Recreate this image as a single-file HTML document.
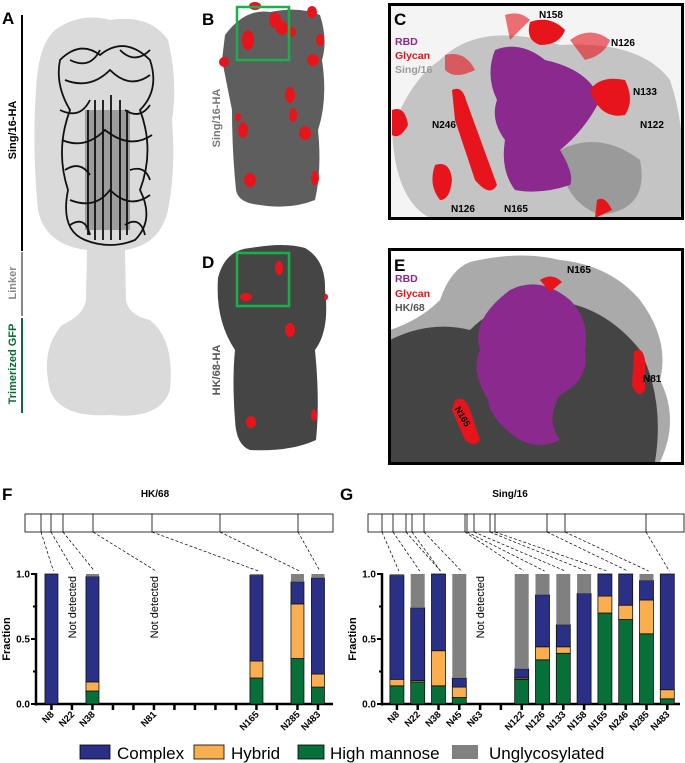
<!DOCTYPE html>
<html><head><meta charset="utf-8"><style>
body{margin:0;background:#fff;width:685px;height:763px;overflow:hidden;font-family:"Liberation Sans",Arial,sans-serif}
svg{position:absolute;left:0;top:0}
</style></head><body>
<svg id="fig" width="685" height="763" viewBox="0 0 685 763">
<!-- Panel A -->
<g>
<text x="2" y="24" font-size="17" font-weight="bold">A</text>
<line x1="22" y1="15" x2="22" y2="251" stroke="#000" stroke-width="2"/>
<line x1="22" y1="252" x2="22" y2="316" stroke="#888" stroke-width="2"/>
<line x1="22" y1="318" x2="22" y2="413" stroke="#0b6b35" stroke-width="2"/>
<text transform="translate(16,130) rotate(-90)" text-anchor="middle" font-size="11" font-weight="bold">Sing/16-HA</text>
<text transform="translate(16,283) rotate(-90)" text-anchor="middle" font-size="11" font-weight="bold" fill="#888">Linker</text>
<text transform="translate(16,364) rotate(-90)" text-anchor="middle" font-size="11" font-weight="bold" fill="#0b6b35">Trimerized GFP</text>
<path d="M55,30 Q80,12 110,20 Q150,14 168,40 Q178,80 172,120 Q176,170 168,210 Q160,245 125,250 L126,300 Q128,315 150,320 Q175,340 170,390 Q160,420 110,415 Q60,418 50,390 Q40,350 62,325 Q84,315 86,300 L87,250 Q45,245 38,210 Q32,150 36,90 Q38,45 55,30 Z" fill="#d6d6d6" opacity="0.9"/>
<g stroke="#111" stroke-width="1.8" fill="none">
<path d="M60,60 Q80,40 100,55 Q125,35 150,60 Q160,90 140,110 Q155,150 140,190 Q155,220 135,240 Q110,250 85,240 Q60,230 68,190 Q55,150 70,110 Q55,85 60,60Z"/>
<path d="M95,100 L95,240 M103,100 L103,240 M111,95 L111,240 M120,100 L120,240 M88,110 L88,235 M127,110 L127,235"/>
<path d="M65,80 Q90,90 110,70 Q130,90 150,75 M62,140 Q85,150 105,130 Q130,150 152,135 M70,200 Q95,210 110,190 Q130,210 150,195 M70,60 Q90,70 100,50 M120,50 Q135,65 150,50 M60,110 Q80,120 90,100 M125,110 Q140,120 150,105 M65,170 Q80,160 90,175 M130,170 Q145,165 150,180 M70,225 Q85,215 90,235 M125,225 Q140,215 145,235"/>
</g>
<path d="M85,110 L130,110 L130,230 L85,230Z" fill="#111" opacity="0.3"/>
</g>
<!-- Panel B -->
<g>
<text x="202" y="25" font-size="17" font-weight="bold">B</text>
<path d="M225,35 Q245,8 270,12 Q300,6 320,15 Q328,40 322,60 Q328,100 318,130 Q322,170 315,200 Q290,210 260,205 Q238,203 236,190 Q232,150 232,110 Q226,80 222,60Z" fill="#5e5e5e"/>
<text transform="translate(220,118) rotate(-90)" text-anchor="middle" font-size="11" font-weight="bold" fill="#777">Sing/16-HA</text>
<g fill="#e8141c">
<ellipse cx="248" cy="40" rx="6" ry="10"/><ellipse cx="275" cy="20" rx="6" ry="8"/><ellipse cx="282" cy="28" rx="6" ry="7"/><ellipse cx="255" cy="6" rx="6" ry="4"/><ellipse cx="312" cy="12" rx="5" ry="6"/><ellipse cx="292" cy="32" rx="4" ry="5"/><ellipse cx="224" cy="62" rx="5" ry="5"/><ellipse cx="313" cy="60" rx="6" ry="6"/><ellipse cx="320" cy="40" rx="4" ry="6"/><ellipse cx="290" cy="95" rx="5" ry="8"/><ellipse cx="293" cy="115" rx="4" ry="7"/><ellipse cx="243" cy="130" rx="5" ry="8"/><ellipse cx="305" cy="133" rx="6" ry="7"/><ellipse cx="250" cy="180" rx="6" ry="7"/><ellipse cx="315" cy="178" rx="4" ry="7"/><ellipse cx="238" cy="117" rx="3" ry="4"/>
</g>
<rect x="237" y="7" width="52" height="53" fill="none" stroke="#19b04b" stroke-width="2.5"/>
</g>
<!-- Panel D -->
<g>
<text x="202" y="268" font-size="17" font-weight="bold">D</text>
<path d="M218,278 Q225,250 250,248 Q285,242 305,248 Q326,260 325,290 Q330,330 315,350 Q320,400 316,440 Q290,452 250,450 Q236,445 235,420 Q232,380 235,350 Q215,320 218,278Z" fill="#454545"/>
<text transform="translate(220,370) rotate(-90)" text-anchor="middle" font-size="11" font-weight="bold" fill="#555">HK/68-HA</text>
<g fill="#e8141c">
<ellipse cx="279" cy="268" rx="4" ry="7"/><ellipse cx="246" cy="297" rx="6" ry="4"/><ellipse cx="290" cy="330" rx="5" ry="7"/><ellipse cx="251" cy="422" rx="5" ry="6"/><ellipse cx="326" cy="297" rx="2" ry="3"/><ellipse cx="314" cy="415" rx="3" ry="6"/>
</g>
<rect x="237" y="253" width="52" height="53" fill="none" stroke="#19b04b" stroke-width="2.5"/>
</g>
<!-- Panel C -->
<g>
<clipPath id="cc"><rect x="390" y="5" width="292" height="213"/></clipPath>
<g clip-path="url(#cc)">
<rect x="390" y="5" width="292" height="213" fill="#f4f4f4"/>
<path d="M440,60 Q480,20 560,45 Q640,40 670,80 Q690,140 680,218 L430,218 Q395,200 392,130 Q410,80 440,60Z" fill="#c4c4c4"/>
<path d="M560,150 Q600,130 640,160 Q650,210 600,215 Q560,200 560,150Z" fill="#9a9a9a"/>
<path d="M495,50 Q520,40 545,60 Q590,70 600,100 Q585,130 560,150 Q575,175 570,185 Q540,195 515,190 Q500,170 505,140 Q490,120 497,100 Q485,75 495,50Z" fill="#8b2a8e"/>
<g fill="#e8141c"><path d="M530,22 Q550,15 565,30 Q560,45 540,45 Q525,40 530,22Z"/><path d="M590,90 Q600,75 625,80 Q635,100 625,115 Q600,120 590,90Z"/><path d="M452,90 Q462,85 466,100 L497,185 Q490,198 475,180 L455,120Z"/><path d="M435,165 Q450,160 452,180 Q450,200 440,200 Q428,185 435,165Z"/><path d="M597,200 Q605,195 612,210 L595,218Z"/><path d="M392,110 Q405,105 408,125 Q400,140 392,135Z"/></g>
<g fill="#e8141c" opacity="0.6"><path d="M570,40 Q590,25 610,40 Q605,55 585,60Z"/><path d="M445,55 Q465,50 475,70 Q455,80 445,70Z"/><path d="M505,15 Q520,10 530,20 L510,40Z"/></g>
</g>
<rect x="389.5" y="4.5" width="293" height="214" fill="none" stroke="#000" stroke-width="3"/>
<text x="394" y="25" font-size="17" font-weight="bold">C</text>
<text x="395" y="45" font-size="10.5" font-weight="bold" fill="#8b2a8e">RBD</text>
<text x="395" y="59" font-size="10.5" font-weight="bold" fill="#e8141c">Glycan</text>
<text x="395" y="73" font-size="10.5" font-weight="bold" fill="#999">Sing/16</text>
<g font-size="10" font-weight="bold">
<text x="539" y="18">N158</text><text x="611" y="46">N126</text><text x="633" y="95">N133</text><text x="640" y="128">N122</text><text x="432" y="128">N246</text><text x="451" y="212">N126</text><text x="504" y="212">N165</text>
</g>
</g>
<!-- Panel E -->
<g>
<clipPath id="ce"><rect x="390" y="250" width="292" height="212"/></clipPath>
<g clip-path="url(#ce)">
<rect x="390" y="250" width="292" height="212" fill="#fff"/>
<path d="M470,262 Q520,250 560,260 Q610,265 640,300 Q670,340 660,380 Q680,420 660,462 L390,462 L390,330 Q420,320 440,300 Q450,270 470,262Z" fill="#aaa"/>
<path d="M390,340 Q430,320 470,330 Q500,300 540,300 Q600,300 640,350 Q665,400 655,462 L390,462Z" fill="#444"/>
<path d="M510,290 Q540,275 570,300 Q590,320 585,350 Q590,380 560,395 Q545,420 560,440 Q540,450 520,440 Q490,420 488,400 Q470,370 480,350 Q470,320 510,290Z" fill="#8b2a8e"/>
<g fill="#e8141c"><path d="M540,280 Q552,272 562,282 L550,292 Z"/><path d="M634,352 Q642,345 645,360 L645,390 Q638,400 632,385Z"/><path d="M455,400 Q465,395 470,410 L480,440 Q475,448 465,440 L452,410Z"/></g>
</g>
<rect x="389.5" y="249.5" width="293" height="214" fill="none" stroke="#000" stroke-width="3"/>
<text x="394" y="271" font-size="17" font-weight="bold">E</text>
<text x="395" y="282" font-size="10.5" font-weight="bold" fill="#8b2a8e">RBD</text>
<text x="395" y="297" font-size="10.5" font-weight="bold" fill="#e8141c">Glycan</text>
<text x="395" y="311" font-size="10.5" font-weight="bold" fill="#555">HK/68</text>
<text x="567" y="273" font-size="10" font-weight="bold">N165</text>
<text x="643" y="382" font-size="10" font-weight="bold">N81</text>
<text transform="translate(460,418) rotate(60)" font-size="9" font-weight="bold" text-anchor="middle">N165</text>
</g>
<!-- Charts -->
<text x="2" y="500" font-size="17" font-weight="bold">F</text>
<text x="155" y="497" font-size="10" font-weight="bold" text-anchor="middle">HK/68</text>
<text x="340" y="500" font-size="17" font-weight="bold">G</text>
<text x="510" y="497" font-size="10" font-weight="bold" text-anchor="middle">Sing/16</text>
<g id="charts"></g>
<!-- Legend -->
<g font-size="17">
<rect x="80" y="745" width="30" height="14" fill="#2b3087" stroke="#000" stroke-width="0.8"/>
<text x="117" y="759">Complex</text>
<rect x="194" y="745" width="30" height="14" fill="#f9ae4f" stroke="#000" stroke-width="0.8"/>
<text x="231" y="759">Hybrid</text>
<rect x="298" y="745" width="26" height="14" fill="#067038" stroke="#000" stroke-width="0.8"/>
<text x="330" y="759">High mannose</text>
<rect x="452" y="745" width="26" height="14" fill="#808080"/>
<text x="489" y="759">Unglycosylated</text>
</g>
</svg>
<script>
const fCats=["N8","N22","N38","","","N81","","","","","N165","","N285","N483"];
const fHM=[0,null,0.10,null,null,null,null,null,null,null,0.20,null,0.35,0.13];
const fHyb=[0,null,0.07,null,null,null,null,null,null,null,0.13,null,0.42,0.10];
const fCx=[1.0,null,0.81,null,null,null,null,null,null,null,0.66,null,0.17,0.74];
const fUn=[0,null,0.02,null,null,null,null,null,null,null,0.01,null,0.06,0.03];
const fSites=[41,51,63,93,152,220,298];
const fTargets=[0,1,2,5,10,12,13];

const gCats=["N8","N22","N38","N45","N63","","N122","N126","N133","N158","N165","N246","N285","N483"];
const gHM=[0.14,0.17,0.14,0.05,null,null,0.19,0.34,0.39,0,0.70,0.65,0.54,0.04];
const gHyb=[0.05,0.01,0.27,0.08,null,null,0.01,0.10,0.05,0,0.13,0.11,0.26,0.07];
const gCx=[0.80,0.56,0.59,0.07,null,null,0.07,0.40,0.17,0.85,0.17,0.24,0.15,0.89];
const gUn=[0.01,0.26,0,0.80,null,null,0.73,0.16,0.39,0.15,0,0,0.05,0];
const gSites=[382,393,406,412,424,465,467,474,490,495,547,565,646];
const gTargets=[0,1,2,2,3,6,7,8,9,10,11,12,13];

const yTicks=["0.0","0.5","1.0"];
const NS="http://www.w3.org/2000/svg";
const root=document.getElementById('charts');
function mk(tag,attrs,parent){const e=document.createElementNS(NS,tag);for(const k in attrs)e.setAttribute(k,attrs[k]);(parent||root).appendChild(e);return e;}

function drawChart(o){
  const g=mk('g',{});
  
  
  const y=v=>o.y0-v*(o.y0-o.y1);
  const x=i=>o.x0+o.step*(i+0.5);
  const sr=mk('rect',{x:o.sx0,y:514,width:o.sx1-o.sx0,height:18,fill:'#fff',stroke:'#000','stroke-width':0.8},g);
  
  
  o.sites.forEach((s,k)=>{
    mk('line',{x1:s,y1:514,x2:s,y2:532,stroke:'#000','stroke-width':0.8},g);
    const t=o.targets[k];
    mk('line',{x1:s,y1:532,x2:x(t)+2,y2:o.y1-3,stroke:'#000','stroke-width':0.7,'stroke-dasharray':'3,2'},g);
  });
  mk('line',{x1:o.ax,y1:o.y1-1,x2:o.ax,y2:o.y0+1.5,stroke:'#000','stroke-width':2.5},g);
  mk('line',{x1:o.ax,y1:o.y0,x2:o.xEnd,y2:o.y0,stroke:'#000','stroke-width':2.5},g);
  yTicks.forEach(t=>{
    const v=parseFloat(t);
    mk('line',{x1:o.ax-5,y1:y(v),x2:o.ax,y2:y(v),stroke:'#000','stroke-width':2},g);
    const tx=mk('text',{x:o.ax-6,y:y(v)+3.5,'font-size':10,'font-weight':'bold','text-anchor':'end'},g);
    tx.textContent=t;
    
    
  });
  [0.25,0.75].forEach(v=>mk('line',{x1:o.ax-3,y1:y(v),x2:o.ax,y2:y(v),stroke:'#000','stroke-width':2},g));
  const yt=mk('text',{transform:`translate(${o.ax-26},${y(0.5)}) rotate(-90)`,'font-size':11,'font-weight':'bold','text-anchor':'middle'},g);
  yt.textContent='Fraction';
  
  
  o.cats.forEach((c,i)=>{
    mk('line',{x1:x(i),y1:o.y0,x2:x(i),y2:o.y0+6,stroke:'#000','stroke-width':2.5},g);
    if(c){
      const lt=mk('text',{transform:`translate(${x(i)+3},${o.y0+11}) rotate(-45)`,'font-size':9.5,'font-weight':'bold','text-anchor':'end'},g);
      lt.textContent=c;
      
      
    }
    if(c && o.hm[i]!==null){
      let base=0;
      const segs=[[o.hm[i],'#067038'],[o.hyb[i],'#f9ae4f'],[o.cx[i],'#2b3087'],[o.un[i],'#808080']];
      segs.forEach(([v,col])=>{
        if(v>0){
          const r=mk('rect',{x:x(i)-o.bw/2,y:y(base+v),width:o.bw,height:y(base)-y(base+v),fill:col,stroke:col==='#808080'?'none':'#111','stroke-width':0.8},g);
          
          
        }
        base+=v;
      });
    }
  });
  o.nd.forEach(([i,dy])=>{
    const t=mk('text',{transform:`translate(${x(i)+4},${o.y1+dy}) rotate(-90)`,'font-size':11,'text-anchor':'end'},g);
    t.textContent='Not detected';
    
    
  });
}
drawChart({name:'chart-hk68',cats:fCats,hm:fHM,hyb:fHyb,cx:fCx,un:fUn,sites:fSites,targets:fTargets,
  x0:41.2,step:20.5,y0:704,y1:574,ax:36,xEnd:333,bw:13,sx0:25,sx1:333,nd:[[1,2],[5,2]]});
drawChart({name:'chart-sing16',cats:gCats,hm:gHM,hyb:gHyb,cx:gCx,un:gUn,sites:gSites,targets:gTargets,
  x0:386.5,step:20.8,y0:704,y1:574,ax:382,xEnd:680,bw:14,sx0:368,sx1:684,nd:[[4,2]]});
</script>
</body></html>
